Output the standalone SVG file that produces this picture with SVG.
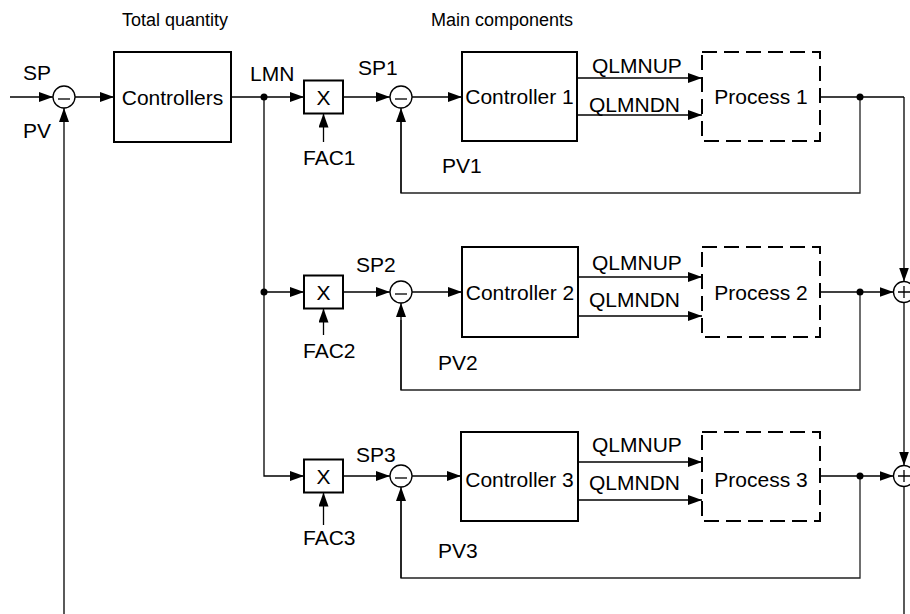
<svg xmlns="http://www.w3.org/2000/svg" width="910" height="614" viewBox="0 0 910 614">
<style>
text{font-family:"Liberation Sans",Arial,sans-serif;font-size:21px;fill:#000}
.hdr{font-size:18px}
.mid{text-anchor:middle}
.box{fill:#fff;stroke:#000;stroke-width:2}
.dash{fill:#fff;stroke:#000;stroke-width:2;stroke-dasharray:15 7}
.sum{fill:#fff;stroke:#000;stroke-width:1.3}
.ln{fill:none;stroke:#000;stroke-width:1.3}
.arr{fill:none;stroke:#000;stroke-width:1.3;marker-end:url(#ah)}
.fb{fill:none;stroke:#222;stroke-width:1.3}
.dot{fill:#000}
</style>
<defs>
<marker id="ah" markerUnits="userSpaceOnUse" markerWidth="14" markerHeight="10" refX="14" refY="5" orient="auto">
<path d="M0,0 L14,5 L0,10 z" fill="#000"/>
</marker>
</defs>

<text class="hdr" x="122" y="26">Total quantity</text>
<text class="hdr" x="431" y="26">Main components</text>

<g id="connectors">
<path class="arr" d="M10,97 H53"/>
<path class="arr" d="M64,614 V108"/>
<path class="arr" d="M75,97 H114"/>
<path class="arr" d="M231,97 H304"/>
<path class="arr" d="M264,97 V476 H304"/>
<path class="arr" d="M264,292 H304"/>
<circle class="dot" cx="264" cy="97" r="3.5"/>
<circle class="dot" cx="264" cy="292" r="3.5"/>

<path class="arr" d="M343,97 H390"/>
<path class="arr" d="M412,97 H462"/>
<path class="arr" d="M323.5,142 V113.5"/>
<path class="fb" d="M860,97 V193 H401 V120"/>
<path class="arr" d="M401,193 V108"/>
<path class="arr" d="M577,78 H702"/>
<path class="arr" d="M577,115 H702"/>
<path class="ln" d="M820,97 H904"/>
<circle class="dot" cx="860" cy="97" r="3.5"/>
<path class="arr" d="M904,97 V281.5"/>

<path class="arr" d="M343,292 H390"/>
<path class="arr" d="M412,292 H462"/>
<path class="arr" d="M323.5,335 V308.5"/>
<path class="fb" d="M860,292 V390 H401 V320"/>
<path class="arr" d="M401,390 V303"/>
<path class="arr" d="M578,277 H702"/>
<path class="arr" d="M578,316 H702"/>
<path class="ln" d="M820,292 H860"/>
<path class="arr" d="M860,292 H893.5"/>
<circle class="dot" cx="860" cy="292" r="3.5"/>
<path class="arr" d="M904,302.5 V465.5"/>

<path class="arr" d="M343,476 H390"/>
<path class="arr" d="M412,476 H461"/>
<path class="arr" d="M323.5,525 V492.5"/>
<path class="fb" d="M860,476 V578 H401 V500"/>
<path class="arr" d="M401,578 V487"/>
<path class="arr" d="M578,462 H702"/>
<path class="arr" d="M578,500 H702"/>
<path class="ln" d="M820,476 H860"/>
<path class="arr" d="M860,476 H893.5"/>
<circle class="dot" cx="860" cy="476" r="3.5"/>
<path class="ln" d="M904,486.5 V614"/>
</g>

<g id="sum0"><circle class="sum" cx="64" cy="97" r="11"/><path class="ln" d="M58,99 H70"/></g>
<g id="controllers"><rect class="box" x="114" y="52" width="117" height="90"/><text class="mid" x="172.5" y="104.5">Controllers</text></g>

<g id="mul1"><rect class="box" x="304" y="80.5" width="39" height="33"/><text class="mid" x="323.5" y="104.5">X</text></g>
<g id="sum1"><circle class="sum" cx="401" cy="97" r="11"/><path class="ln" d="M395,99 H407"/></g>
<g id="ctrl1"><rect class="box" x="462" y="52" width="115" height="89"/><text class="mid" x="519.5" y="104">Controller 1</text></g>
<g id="proc1"><rect class="dash" x="702" y="52" width="118" height="89"/><text class="mid" x="761" y="103.5">Process 1</text></g>

<g id="mul2"><rect class="box" x="304" y="275.5" width="39" height="33"/><text class="mid" x="323.5" y="299.5">X</text></g>
<g id="sum2"><circle class="sum" cx="401" cy="292" r="11"/><path class="ln" d="M395,294 H407"/></g>
<g id="ctrl2"><rect class="box" x="462" y="247" width="116" height="90"/><text class="mid" x="520" y="299.5">Controller 2</text></g>
<g id="proc2"><rect class="dash" x="702" y="247" width="118" height="90"/><text class="mid" x="761" y="299.5">Process 2</text></g>
<g id="add2"><circle class="sum" cx="904" cy="292" r="10.5"/><path class="ln" d="M898,292 H910 M904,286 V298"/></g>

<g id="mul3"><rect class="box" x="304" y="459.5" width="39" height="33"/><text class="mid" x="323.5" y="483.5">X</text></g>
<g id="sum3"><circle class="sum" cx="401" cy="476" r="11"/><path class="ln" d="M395,478 H407"/></g>
<g id="ctrl3"><rect class="box" x="461" y="432" width="117" height="89"/><text class="mid" x="519.5" y="487">Controller 3</text></g>
<g id="proc3"><rect class="dash" x="702" y="432" width="118" height="89"/><text class="mid" x="761" y="487">Process 3</text></g>
<g id="add3"><circle class="sum" cx="904" cy="476" r="10.5"/><path class="ln" d="M898,476 H910 M904,470 V482"/></g>

<g id="labels">
<text x="23" y="80">SP</text>
<text x="23" y="138">PV</text>
<text x="250" y="81">LMN</text>
<text x="358" y="75">SP1</text>
<text x="303" y="165">FAC1</text>
<text x="442" y="173">PV1</text>
<text x="592" y="73">QLMNUP</text>
<text x="589" y="112">QLMNDN</text>
<text x="356" y="272">SP2</text>
<text x="303" y="358">FAC2</text>
<text x="438" y="370">PV2</text>
<text x="592" y="270">QLMNUP</text>
<text x="589" y="307">QLMNDN</text>
<text x="356" y="462">SP3</text>
<text x="303" y="545">FAC3</text>
<text x="438" y="558">PV3</text>
<text x="592" y="452">QLMNUP</text>
<text x="589" y="490">QLMNDN</text>
</g>
</svg>
